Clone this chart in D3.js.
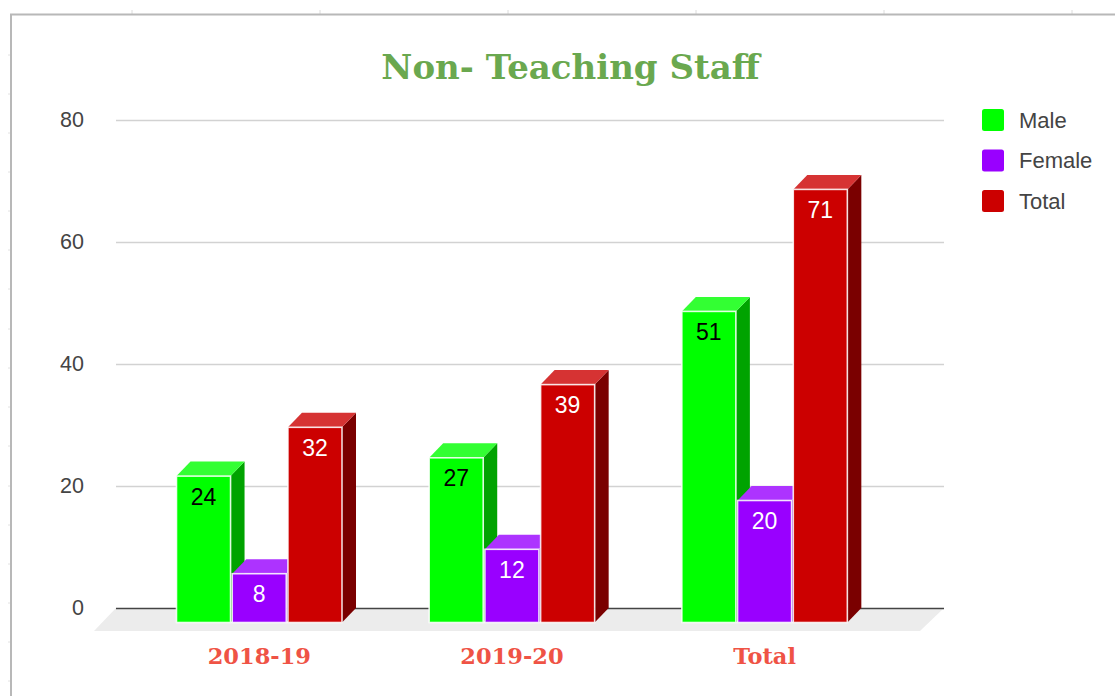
<!DOCTYPE html>
<html>
<head>
<meta charset="utf-8">
<title>Non- Teaching Staff</title>
<script src="https://d3js.org/d3.v7.min.js"></script>
<style>
    body { margin: 0; background: #fff; }
    svg { display: block; }
    text { font-family: "Liberation Sans", Arial, sans-serif; }
</style>
</head>
<body>
<script>
"use strict";
const categories = ["2018-19", "2019-20", "Total"];
const seriesNames = ["Male", "Female", "Total"];
const maleValues = [24, 27, 51];
const femaleValues = [8, 12, 20];
const totalValues = [32, 39, 71];
const yTicks = [0, 20, 40, 60, 80];

// sheet ruler marks around the screenshot
const rulerTopX = [132, 320, 508, 696, 884, 1072];
const rulerLeftY = [55, 94, 133, 172, 211, 250, 289, 329, 368, 407, 446, 486, 525, 564, 603, 642, 681];

const seriesValues = [maleValues, femaleValues, totalValues];

// colors per series: front face, side face, top face
const faces = {
    "Male": { front: "#00ff00", side: "#00a300", top: "#33ff33" },
    "Female": { front: "#9900ff", side: "#6600aa", top: "#ad33ff" },
    "Total": { front: "#cc0000", side: "#7a0000", top: "#d63333" }
};
const labelColors = { "Male": "#000", "Female": "#fff", "Total": "#fff" };

const measurements = {
    width: 1115,
    height: 696,
    plotLeft: 116,
    plotRight: 944,
    plotTop: 120,
    plotBottom: 608,
    depthX: 14,
    depthY: 14.5
};

const svg = d3.select("body").append("svg")
    .attr("width", measurements.width)
    .attr("height", measurements.height);

const scaleY = d3.scaleLinear()
    .domain([0, 80])
    .range([measurements.plotBottom, measurements.plotTop]);

const scaleX = d3.scaleBand()
    .domain(categories)
    .range([133, 891]);

const scaleSeries = d3.scaleBand()
    .domain(seriesNames)
    .range([43.5, 209])
    .paddingInner(0.03);

drawFrame();
drawFloor();
drawAxis();
drawBars();
drawCategoryLabels();
drawLegend();

svg.append("text")
    .attr("x", 570.5)
    .attr("y", 79)
    .attr("text-anchor", "middle")
    .style("font-family", "'DejaVu Serif', serif")
    .style("font-weight", "bold")
    .style("font-size", "34px")
    .style("fill", "#6aa84f")
    .text("Non- Teaching Staff");

function drawFrame() {
    svg.selectAll(".ruler-top")
        .data(rulerTopX)
        .enter()
        .append("line")
        .attr("x1", d => d)
        .attr("x2", d => d)
        .attr("y1", 10)
        .attr("y2", 14)
        .style("stroke", "#dcdcdc");

    svg.selectAll(".ruler-left")
        .data(rulerLeftY)
        .enter()
        .append("line")
        .attr("x1", 8)
        .attr("x2", 11)
        .attr("y1", d => d)
        .attr("y2", d => d)
        .style("stroke", "#e2e2e2");

    svg.append("path")
        .attr("d", "M11,696V14.5H1115")
        .style("fill", "none")
        .style("stroke", "#b8b8b8")
        .style("stroke-width", 2);
}

function drawFloor() {
    const back = scaleY(0);
    svg.append("polygon")
        .attr("points", [
            [measurements.plotLeft, back],
            [measurements.plotRight, back],
            [measurements.plotRight - 24, back + 23],
            [measurements.plotLeft - 22, back + 23]
        ].join(" "))
        .style("fill", "#ececec");
}

function drawAxis() {
    const yAxis = d3.axisLeft(scaleY)
        .tickValues(yTicks)
        .tickSize(-(measurements.plotRight - measurements.plotLeft))
        .tickPadding(32);

    const axis = svg.append("g")
        .attr("transform", `translate(${measurements.plotLeft},0)`)
        .call(yAxis);

    axis.select(".domain").remove();
    axis.selectAll(".tick line")
        .style("stroke", d => d === 0 ? "#444" : "#d2d2d2")
        .style("stroke-width", 1.6);
    axis.selectAll(".tick text")
        .style("font-family", "'Liberation Sans', Arial, sans-serif")
        .style("font-size", "21.5px")
        .style("fill", "#444");
}

function drawBars() {
    const dx = measurements.depthX;
    const dy = measurements.depthY;
    const barWidth = scaleSeries.bandwidth();

    categories.forEach((category, c) => {
        const group = svg.append("g").attr("class", "group");
        seriesNames.forEach((name, s) => {
            const value = seriesValues[s][c];
            const x0 = scaleX(category) + scaleSeries(name);
            const x1 = x0 + barWidth;
            const yTop = scaleY(value) + dy;
            const yBase = scaleY(0) + dy;

            group.append("polygon")
                .attr("points", [[x1, yTop], [x1 + dx, yTop - dy], [x1 + dx, yBase - dy], [x1, yBase]].join(" "))
                .style("fill", faces[name].side);

            group.append("polygon")
                .attr("points", [[x0, yTop], [x0 + dx, yTop - dy], [x1 + dx, yTop - dy], [x1, yTop]].join(" "))
                .style("fill", faces[name].top);

            group.append("rect")
                .attr("x", x0)
                .attr("y", yTop)
                .attr("width", barWidth)
                .attr("height", yBase - yTop)
                .style("fill", faces[name].front)
                .style("stroke", "#fff")
                .style("stroke-opacity", 0.85)
                .style("stroke-width", 1.6);

            group.append("text")
                .attr("x", x0 + barWidth / 2)
                .attr("y", yTop + 28.5)
                .attr("text-anchor", "middle")
                .style("font-size", "23px")
                .style("fill", labelColors[name])
                .text(value);
        });
    });
}

function drawCategoryLabels() {
    svg.selectAll(".category")
        .data(categories)
        .enter()
        .append("text")
        .attr("class", "category")
        .attr("x", d => scaleX(d) + scaleX.bandwidth() / 2)
        .attr("y", 664)
        .attr("text-anchor", "middle")
        .style("font-family", "'DejaVu Serif', serif")
        .style("font-weight", "bold")
        .style("font-size", "22.5px")
        .style("fill", "#ef5345")
        .text(d => d);
}

function drawLegend() {
    const legendY = d3.scalePoint()
        .domain(seriesNames)
        .range([120, 201]);

    const rows = svg.selectAll(".legend")
        .data(seriesNames)
        .enter()
        .append("g")
        .attr("class", "legend")
        .attr("transform", d => `translate(982,${legendY(d)})`);

    rows.append("rect")
        .attr("y", -11)
        .attr("width", 22)
        .attr("height", 22)
        .attr("rx", 2.5)
        .style("fill", d => faces[d].front);

    rows.append("text")
        .attr("x", 37)
        .attr("y", 7.5)
        .style("font-size", "22px")
        .style("fill", "#444")
        .text(d => d);
}
</script>
</body>
</html>
